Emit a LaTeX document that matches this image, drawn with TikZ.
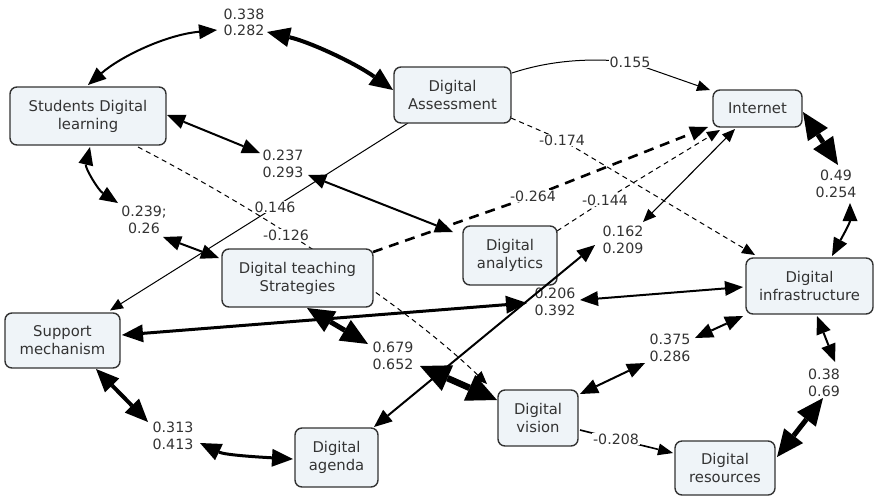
\documentclass[tikz,border=0pt]{standalone}
\usepackage{fontspec}
\setmainfont{DejaVu Sans}
\usetikzlibrary{arrows.meta,calc,backgrounds}
\definecolor{boxfill}{HTML}{EFF4F8}
\definecolor{boxline}{HTML}{333333}
\definecolor{txt}{HTML}{333333}
\newcommand\boxfnt{\fontsize{14.8}{18}\selectfont}
\newcommand\labfnt{\fontsize{14.2}{16.5}\selectfont}
\begin{document}
\begin{tikzpicture}[x=1pt,y=-1pt,
  box/.style={draw=boxline, line width=1.4pt, rounded corners=7pt, fill=boxfill, align=center, text=txt, inner sep=2pt, font=\boxfnt},
  lab/.style={fill=white, inner sep=1pt, align=center, text=txt, font=\labfnt},
  ar1/.style={line width=1pt, arrows={-Triangle[length=13pt,width=11pt,line width=0pt]}},
  ar2/.style={line width=1.6pt, arrows={-Triangle[length=15pt,width=12pt,line width=0pt]}},
  dash1/.style={line width=1pt, dash pattern=on 5pt off 4pt, arrows={-Triangle[length=13pt,width=11pt,line width=0pt]}},
  dash2/.style={line width=2.6pt, dash pattern=on 10pt off 7pt, arrows={-Triangle[length=18pt,width=15pt,line width=0pt]}},
  bi1/.style={line width=1.1pt, arrows={Triangle[length=13pt,width=11pt,line width=0pt]-Triangle[length=13pt,width=11pt,line width=0pt]}},
  bi2/.style={line width=2pt, arrows={Triangle[length=18pt,width=15pt,line width=0pt]-Triangle[length=18pt,width=15pt,line width=0pt]}},
  bi3/.style={line width=3pt, arrows={Triangle[length=21pt,width=18pt,line width=0pt]-Triangle[length=21pt,width=18pt,line width=0pt]}},
  bi4/.style={line width=4pt, arrows={Triangle[length=23pt,width=20pt,line width=0pt]-Triangle[length=23pt,width=20pt,line width=0pt]}},
  bi5/.style={line width=5pt, arrows={Triangle[length=27pt,width=24pt,line width=0pt]-Triangle[length=27pt,width=24pt,line width=0pt]}},
  bi6/.style={line width=6.5pt, arrows={Triangle[length=30pt,width=28pt,line width=0pt]-Triangle[length=30pt,width=28pt,line width=0pt]}}
]
\useasboundingbox (0,0) rectangle (874,496);

% boxes
\node[box, minimum width=156pt, minimum height=58pt] (sdl) at (88,116) {Students Digital\\learning};
\node[box, minimum width=117pt, minimum height=56pt] (assess) at (452.5,95) {Digital\\Assessment};
\node[box, minimum width=89pt, minimum height=37pt] (internet) at (757.5,108.5) {Internet};
\node[box, minimum width=94pt, minimum height=59pt] (analytics) at (510,255.5) {Digital\\analytics};
\node[box, minimum width=151pt, minimum height=58pt] (dts) at (297.5,278) {Digital teaching\\Strategies};
\node[box, minimum width=127pt, minimum height=56pt] (infra) at (809.5,286) {Digital\\infrastructure};
\node[box, minimum width=115pt, minimum height=55pt] (support) at (62.5,340.5) {Support\\mechanism};
\node[box, minimum width=83pt, minimum height=59pt] (agenda) at (336.5,457.5) {Digital\\agenda};
\node[box, minimum width=80pt, minimum height=56pt] (vision) at (538,418) {Digital\\vision};
\node[box, minimum width=100pt, minimum height=54pt] (resources) at (725,468) {Digital\\resources};

% labels
\node[lab] (l338) at (244,22.5) {0.338\\0.282};
\node[lab] (l237) at (283,164) {0.237\\0.293};
\node[lab] (l146) at (275,207) {0.146};
\node[lab] (l239) at (144,220) {0.239;\\0.26};
\node[lab] (l126) at (286,235) {-0.126};
\node[lab] (l155) at (630,62) {0.155};
\node[lab] (l174) at (562,140) {-0.174};
\node[lab] (l264) at (533,196) {-0.264};
\node[lab] (l144) at (605,200) {-0.144};
\node[lab] (l162) at (623,240) {0.162\\0.209};
\node[lab] (l49) at (836,184) {0.49\\0.254};
\node[lab] (l206) at (555,302) {0.206\\0.392};
\node[lab] (l375) at (670,348) {0.375\\0.286};
\node[lab] (l38) at (824,383) {0.38\\0.69};
\node[lab] (l208) at (616,439) {-0.208};
\node[lab] (l679) at (393,356) {0.679\\0.652};
\node[lab] (l313) at (173,436) {0.313\\0.413};

\begin{scope}[on background layer]
% Students Digital learning
\draw[bi2] ($(sdl)+(0,-31)$) .. controls +(32,-28) and +(-52,5) .. ($(l338)+(-27,7.5)$);
\draw[bi4] ($(l338)+(23,9.5)$) .. controls +(43,10) and +(-38,-27) .. ($(assess)+(-59.5,-5)$);
\draw[bi2] ($(sdl)+(79,-1)$) -- ($(l237)+(-23,-11)$);
\draw[bi2] ($(l237)+(25,11)$) -- ($(analytics)+(-57,-23.5)$);
\draw[bi2] ($(sdl)+(2,31)$) .. controls +(-5,21) and +(-20,-13) .. ($(l239)+(-26,-17)$);
\draw[bi2] ($(l239)+(19,17)$) -- ($(dts)+(-78.5,-20)$);
\draw[dash1] ($(sdl)+(50,31)$) .. controls +(112,58) and +(-87,-84) .. ($(vision)+(-51,-34)$);
% Assessment
\draw[ar1] ($(assess)+(-44.5,28)$) -- (l146.center) -- ($(support)+(47.5,-30)$);
\draw[ar1] ($(assess)+(59.5,-22)$) .. controls +(33,-11) and +(-45,-5) .. (l155.center) -- ($(internet)+(-47.5,-18.5)$);
\draw[dash1] ($(assess)+(58.5,23)$) -- (l174.center) -- ($(infra)+(-54.5,-31)$);
% to Internet
\draw[dash2] ($(dts)+(75.5,-26)$) -- (l264.center) -- ($(internet)+(-49.5,18.5)$);
\draw[dash1] ($(analytics)+(47,-24.5)$) -- (l144.center) -- ($(internet)+(-37.5,21.5)$);
\draw[bi1] ($(internet)+(-22.5,20.5)$) -- ($(l162)+(20,-18)$);
\draw[bi5] ($(internet)+(45.5,3.5)$) -- ($(l49)+(2,-19)$);
\draw[bi2] ($(l49)+(14,19)$) .. controls +(0,20) and +(8,-15) .. ($(infra)+(22.5,-30)$);
% Support
\draw[bi3] ($(support)+(59.5,-5.5)$) -- ($(l206)+(-28,1)$);
\draw[bi2] ($(l206)+(25,-2)$) -- ($(infra)+(-66.5,1)$);
\draw[bi4] ($(support)+(33.5,28.5)$) -- ($(l313)+(-25,-14)$);
\draw[bi3] ($(l313)+(27,7)$) .. controls +(25,12) and +(-35,-2) .. ($(agenda)+(-43.5,1.5)$);
% DTS - vision
\draw[bi5] ($(dts)+(9.5,30)$) -- ($(l679)+(-25,-12)$);
\draw[bi6] ($(l679)+(27,10)$) -- ($(vision)+(-41,-18)$);
% vision - infra
\draw[bi2] ($(vision)+(42,-24)$) -- ($(l375)+(-25,15)$);
\draw[bi2] ($(l375)+(25,-10)$) -- ($(infra)+(-66.5,30)$);
% infra - resources
\draw[bi2] ($(infra)+(7.5,30)$) -- ($(l38)+(11,-21)$);
\draw[bi5] ($(l38)+(-1,15)$) -- ($(resources)+(52,-11)$);
% vision - resources
\draw[ar2] ($(vision)+(42,12)$) -- (l208.center) -- ($(resources)+(-52,-15)$);
\end{scope}
% agenda - analytics label (drawn over)
\draw[bi2] ($(l162)+(-28,5)$) -- ($(agenda)+(37.5,-30.5)$);
\end{tikzpicture}
\end{document}
